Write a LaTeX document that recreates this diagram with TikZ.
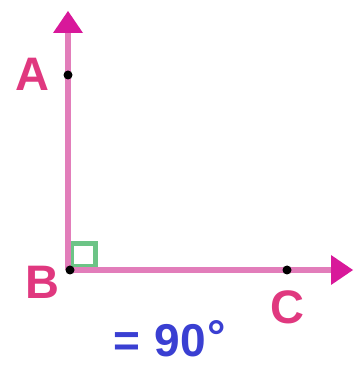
\documentclass[tikz,border=0pt]{standalone}
\usepackage{fontspec}
\setmainfont{Liberation Sans}
\usetikzlibrary{arrows.meta,positioning}
\definecolor{rpink}{HTML}{E27DBA}
\definecolor{rtip}{HTML}{D8189A}
\definecolor{rlabel}{HTML}{E0387F}
\definecolor{rgreen}{HTML}{6CC486}
\definecolor{rblue}{HTML}{3A3FD2}

\begin{document}
\begin{tikzpicture}[x=1pt,y=1pt,
    ray/.style={line width=6pt, rpink, -{Triangle[length=22pt,width=30pt,fill=rtip,line width=0pt]}},
    dot/.style={circle, fill=black, inner sep=0pt, minimum size=9pt},
    lbl/.style={font=\fontsize{47}{47}\selectfont\bfseries, text=rlabel}]
    \useasboundingbox (0,0) rectangle (354,365);

    % Points
    \coordinate (B) at (68,95);
    \coordinate (top) at (68,354);
    \coordinate (right) at (353,95);

    % Right angle mark
    \draw[rgreen, line width=5pt] (71,98) rectangle (95,121);

    % Rays
    \draw[ray] (B) -- (top);
    \draw[ray] (B) -- (right);

    \node[dot] (a) at (68,290) {};
    \node[dot] (b) at (70,95) {};
    \node[dot] (c) at (287,95) {};

    % Labels
    \node[lbl] (labA) at (32,291) {A};
    \node[lbl] (labB) at (42,83) {B};
    \node[lbl] (labC) at (287,58) {C};

    \node[anchor=base, font=\fontsize{46}{46}\selectfont\bfseries, text=rblue] (angle) at (170,9) {=\hspace{14pt}90\hspace{2pt}\raisebox{4pt}{\textdegree}};
\end{tikzpicture}
\end{document}
